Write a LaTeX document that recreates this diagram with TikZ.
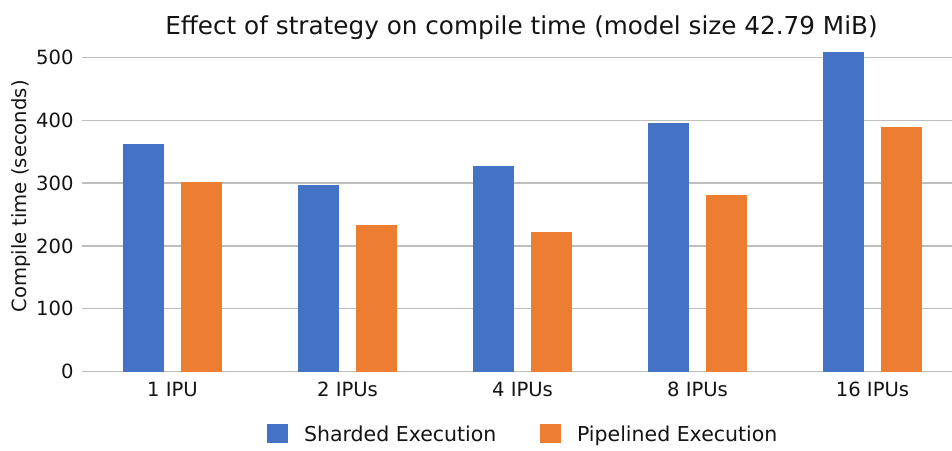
\documentclass[tikz,border=0pt]{standalone}
\usepackage{fontspec}
\setmainfont{DejaVu Sans}
\definecolor{sharded}{HTML}{4472C4}
\definecolor{piped}{HTML}{ED7D31}
\definecolor{gridc}{RGB}{190,190,190}
\definecolor{txt}{RGB}{20,20,20}
\tikzset{
  lbl/.style={inner sep=0pt, outer sep=0pt, text=txt, font=\fontsize{19.6}{23}\selectfont},
  leg/.style={inner sep=0pt, outer sep=0pt, text=txt, font=\fontsize{20.5}{24}\selectfont},
  ttl/.style={inner sep=0pt, outer sep=0pt, text=txt, font=\fontsize{24.7}{29}\selectfont},
  gridline/.style={draw=gridc, line width=1.3pt},
}
\newcommand{\yzero}{78.3}
\newcommand{\yscl}{0.6287}
\begin{document}
\begin{tikzpicture}[x=1pt,y=1pt]
\useasboundingbox (0,0) rectangle (952,450);
\fill[white] (0,0) rectangle (952,450);
% title
\node[ttl, anchor=base] (title) at (521.5,415.5) {Effect of strategy on compile time (model size 42.79 MiB)};
% grid and tick labels
\foreach \v in {0,100,...,500} {
  \pgfmathsetmacro{\yy}{\yzero+\v*\yscl}
  \coordinate (gl\v) at (82,\yy);
  \coordinate (gr\v) at (952,\yy);
  \draw[gridline] (gl\v) -- (gr\v);
  \node[lbl, anchor=base east] (tick\v) at (73.5,\yy-7.1) {\v};
}
% y axis title
\node[lbl, rotate=90, anchor=base] (ytitle) at (26,253.5) {Compile time (seconds)};
% bars
\foreach \i/\a/\b/\name in {0/362/302/1 IPU,1/297/233/2 IPUs,2/327/222/4 IPUs,3/396/281/8 IPUs,4/508/389/16 IPUs} {
  \pgfmathsetmacro{\cx}{172.5+175*\i}
  \fill[sharded] (\cx-49.5,\yzero) rectangle (\cx-8.5,\yzero+\a*\yscl);
  \fill[piped] (\cx+8.5,\yzero) rectangle (\cx+49.5,\yzero+\b*\yscl);
  \node[lbl, anchor=base] (cat\i) at (\cx,53.3) {\name};
}
% legend
\fill[sharded] (267,7.2) rectangle (287.5,26);
\node[leg, anchor=base west] (legA) at (304,8.3) {Sharded Execution};
\fill[piped] (540,7.2) rectangle (560.5,26);
\node[leg, anchor=base west] (legB) at (577,8.3) {Pipelined Execution};
\end{tikzpicture}
\end{document}
